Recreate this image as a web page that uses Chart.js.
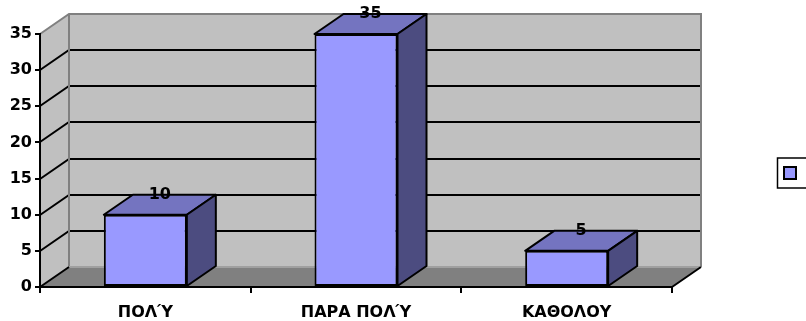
<!DOCTYPE html>
<html>
<head>
<meta charset="utf-8">
<script src="https://cdn.jsdelivr.net/npm/chart.js@4/dist/chart.umd.min.js"></script>
<style>
  html, body { margin: 0; padding: 0; background: #fff; }
  #wrap { width: 806px; height: 321px; }
</style>
</head>
<body>
<div id="wrap"><canvas id="c" width="806" height="321"></canvas></div>
<script>
// Answers per category
const categories = ['ΠΟΛΎ', 'ΠΑΡΑ ΠΟΛΎ', 'ΚΑΘΟΛΟΥ'];
const values = [10, 35, 5];
const seriesName = 'Σειρά1';
const yTicks = [0, 5, 10, 15, 20, 25, 30, 35];

// Depth of the pseudo-3D box (pixels to the right / up)
const DX = 29, DY = -20;
const FONT = 'DejaVu Sans';
const FRONT = '#9999ff', TOP = '#7474c0', SIDE = '#4c4c80';

function poly(ctx, pts, fill, stroke, lw) {
  ctx.beginPath();
  ctx.moveTo(pts[0][0], pts[0][1]);
  for (let i = 1; i < pts.length; i++) ctx.lineTo(pts[i][0], pts[i][1]);
  ctx.closePath();
  if (fill) { ctx.fillStyle = fill; ctx.fill(); }
  if (stroke) { ctx.strokeStyle = stroke; ctx.lineWidth = lw || 1; ctx.stroke(); }
}

const box3d = {
  id: 'box3d',
  beforeDraw(chart) {
    const { ctx, chartArea: a, scales: { y } } = chart;
    const yTop = y.getPixelForValue(y.max), yBot = y.getPixelForValue(0);
    ctx.save();
    // side wall
    poly(ctx, [[a.left, yBot], [a.left, yTop], [a.left + DX, yTop + DY], [a.left + DX, yBot + DY]], '#c0c0c0');
    // back wall
    poly(ctx, [[a.left + DX, yTop + DY], [a.right + DX, yTop + DY], [a.right + DX, yBot + DY], [a.left + DX, yBot + DY]], '#c0c0c0');
    // floor
    poly(ctx, [[a.left, yBot], [a.right, yBot], [a.right + DX, yBot + DY], [a.left + DX, yBot + DY]], '#808080');
    // grid lines on side and back walls
    ctx.lineWidth = 2;
    ctx.strokeStyle = '#000';
    yTicks.forEach(v => {
      if (v === 0 || v === y.max) return;
      const py = Math.round(y.getPixelForValue(v));
      ctx.beginPath();
      ctx.moveTo(a.left, py);
      ctx.lineTo(a.left + DX, py + DY);
      ctx.lineTo(a.right + DX, py + DY);
      ctx.stroke();
    });
    // wall borders
    ctx.strokeStyle = '#808080';
    ctx.beginPath();
    ctx.moveTo(a.left, yTop);
    ctx.lineTo(a.left + DX, yTop + DY);
    ctx.lineTo(a.right + DX, yTop + DY);
    ctx.lineTo(a.right + DX, yBot + DY);
    ctx.moveTo(a.left + DX, yTop + DY);
    ctx.lineTo(a.left + DX, yBot + DY);
    ctx.stroke();
    ctx.strokeStyle = '#a0a0a0';
    ctx.beginPath();
    ctx.moveTo(a.left + DX, yBot + DY);
    ctx.lineTo(a.right + DX, yBot + DY);
    ctx.stroke();
    // floor edges
    ctx.strokeStyle = '#000';
    ctx.beginPath();
    ctx.moveTo(a.left, yBot);
    ctx.lineTo(a.left + DX, yBot + DY);
    ctx.moveTo(a.right, yBot);
    ctx.lineTo(a.right + DX, yBot + DY);
    ctx.stroke();
    ctx.restore();
  },
  afterDatasetsDraw(chart) {
    const { ctx } = chart;
    const meta = chart.getDatasetMeta(0);
    ctx.save();
    ctx.lineJoin = 'round';
    meta.data.forEach((bar) => {
      const x1 = bar.x - bar.width / 2, x2 = bar.x + bar.width / 2;
      const yt = bar.y, yb = bar.base;
      poly(ctx, [[x1, yt], [x1 + DX, yt + DY], [x2 + DX, yt + DY], [x2, yt]], TOP, '#000', 2);
      poly(ctx, [[x2, yt], [x2 + DX, yt + DY], [x2 + DX, yb + DY], [x2, yb]], SIDE, '#000', 2);
    });
    // value labels
    ctx.fillStyle = '#000';
    ctx.font = 'bold 16px "' + FONT + '"';
    ctx.textAlign = 'center';
    ctx.textBaseline = 'middle';
    meta.data.forEach((bar, i) => {
      ctx.fillText(String(values[i]), bar.x + DX / 2, bar.y + DY);
    });
    ctx.restore();
  },
  afterDraw(chart) {
    const { ctx, chartArea: a } = chart;
    ctx.save();
    // value axis line
    ctx.strokeStyle = '#000';
    ctx.lineWidth = 2;
    ctx.beginPath();
    ctx.moveTo(a.left, a.top);
    ctx.lineTo(a.left, a.bottom + 1);
    ctx.stroke();
    // legend box
    ctx.fillStyle = '#fff';
    ctx.fillRect(777, 158, 60, 30);
    ctx.lineWidth = 1.5;
    ctx.strokeRect(777.5, 158, 60, 30);
    ctx.fillStyle = chart.data.datasets[0].backgroundColor;
    ctx.fillRect(784, 167, 12, 12);
    ctx.lineWidth = 2;
    ctx.strokeRect(784, 167, 12, 12);
    ctx.restore();
  }
};

new Chart(document.getElementById('c'), {
  type: 'bar',
  data: {
    labels: categories,
    datasets: [{
      label: seriesName,
      data: values,
      backgroundColor: FRONT,
      borderColor: '#000',
      borderWidth: 2,
      borderSkipped: false,
      barPercentage: 0.394,
      categoryPercentage: 1
    }]
  },
  options: {
    responsive: false,
    animation: false,
    devicePixelRatio: 1,
    layout: { padding: { top: 34, right: 134, left: 0, bottom: 0 } },
    plugins: { legend: { display: false }, tooltip: { enabled: false } },
    scales: {
      x: {
        afterFit(s) { s.height = 34; },
        grid: { drawOnChartArea: false, color: '#000', lineWidth: 2, tickLength: 6, offset: true },
        border: { display: true, color: '#000', width: 2 },
        ticks: { color: '#000', font: { family: FONT, size: 16, weight: 'bold' }, padding: 10, maxRotation: 0 }
      },
      y: {
        min: 0, max: 35,
        afterFit(s) { s.width = 40; },
        afterBuildTicks(s) { s.ticks = yTicks.map(v => ({ value: v })); },
        grid: { drawOnChartArea: false, color: '#000', lineWidth: 2, tickLength: 5 },
        border: { display: true, color: '#000', width: 2 },
        ticks: { color: '#000', font: { family: FONT, size: 16, weight: 'bold' }, padding: 3 }
      }
    }
  },
  plugins: [box3d]
});
</script>
</body>
</html>
